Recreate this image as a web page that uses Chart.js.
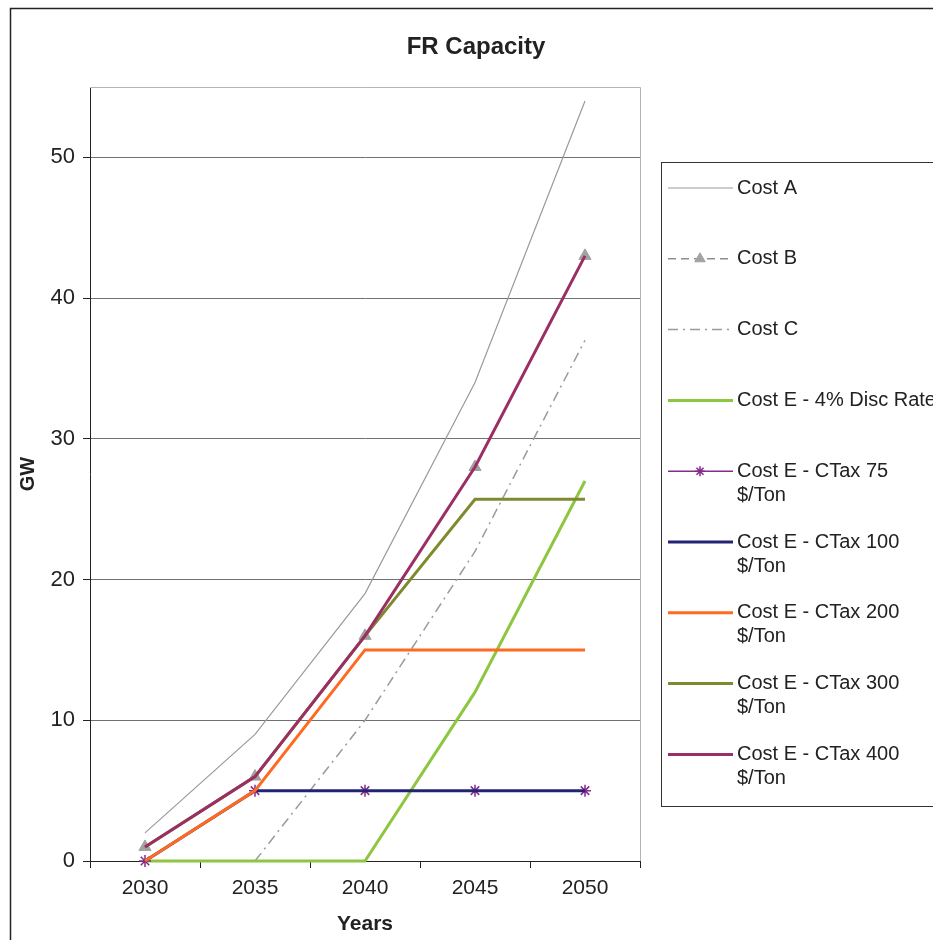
<!DOCTYPE html>
<html lang="en">
  <head>
    <meta charset="UTF-8" />
    <title>FR Capacity</title>
    <script src="https://cdn.jsdelivr.net/npm/chart.js"></script>
    <style>
      html, body {
        margin: 0;
        padding: 0;
        background-color: #fff;
      }
      #wrap {
        position: relative;
        width: 933px;
        height: 940px;
      }
    </style>
  </head>
  <body>
    <div id="wrap">
      <canvas id="capacityChart" width="933" height="940"></canvas>
    </div>

    <script>
      // chart data
      const years = ["2030", "2035", "2040", "2045", "2050"];
      const yTicks = [0, 10, 20, 30, 40, 50];

      const costA = [2, 9, 19, 34, 54];
      const costB = [1, 6, 16, 28, 43];
      const costC = [null, 0, 10, 22, 37];
      const disc4 = [0, 0, 0, 12, 27];
      const ctax75 = [0, 5, 5, 5, 5];
      const ctax100 = [0, 5, 5, 5, 5];
      const ctax200 = [0, 5, 15, 15, 15];
      const ctax300 = [1, 6, 16, 25.7, 25.7];
      const ctax400 = [1, 6, 16, 28, 43];

      const seriesNames = [
        ["Cost A"],
        ["Cost B"],
        ["Cost C"],
        ["Cost E - 4% Disc Rate"],
        ["Cost E - CTax 75", "$/Ton"],
        ["Cost E - CTax 100", "$/Ton"],
        ["Cost E - CTax 200", "$/Ton"],
        ["Cost E - CTax 300", "$/Ton"],
        ["Cost E - CTax 400", "$/Ton"],
      ];

      const FONT = "'Liberation Sans', Arial, sans-serif";

      // later series are drawn on top, like the original
      function line(idx, data, color, width, extra) {
        return Object.assign({
          label: seriesNames[idx].join(" "),
          legendLines: seriesNames[idx],
          data: data,
          borderColor: color,
          backgroundColor: color,
          borderWidth: width,
          pointRadius: 0,
          pointHoverRadius: 0,
          tension: 0,
          fill: false,
          clip: false,
          spanGaps: false,
          order: 8 - idx,
        }, extra || {});
      }

      const datasets = [
        line(0, costA, "#9a9a9a", 1.2),
        line(1, costB, "#8e8e8e", 1.5, {
          borderDash: [8, 5],
          pointStyle: "triangle",
          pointRadius: 7,
          pointBackgroundColor: "#a2a2a2",
          pointBorderColor: "#a2a2a2",
          pointBorderWidth: 1,
        }),
        line(2, costC, "#9a9a9a", 1.5, { borderDash: [10, 5, 2, 5] }),
        line(3, disc4, "#8dc63f", 3),
        line(4, ctax75, "#862a8e", 1.5, {
          pointStyle: "star",
          pointRadius: 6,
          pointBorderColor: "#862a8e",
          pointBackgroundColor: "#862a8e",
          pointBorderWidth: 1.5,
        }),
        line(5, ctax100, "#232373", 3),
        line(6, ctax200, "#ff6a22", 3),
        line(7, ctax300, "#7f8a2e", 3),
        line(8, ctax400, "#9b2f65", 3),
      ];

      // frame, title, plot border and the legend box
      const decorPlugin = {
        id: "decor",
        afterDraw(chart) {
          const ctx = chart.ctx;
          const area = chart.chartArea;
          ctx.save();

          // outer frame
          ctx.strokeStyle = "#222";
          ctx.lineWidth = 1.5;
          ctx.strokeRect(10.5, 8.5, 1000, 1000);

          // plot top / right border
          ctx.strokeStyle = "#b4b4b4";
          ctx.lineWidth = 1;
          ctx.beginPath();
          ctx.moveTo(area.left, area.top + 0.5);
          ctx.lineTo(area.right + 0.5, area.top + 0.5);
          ctx.lineTo(area.right + 0.5, area.bottom);
          ctx.stroke();

          // title
          ctx.fillStyle = "#222";
          ctx.font = "bold 24px " + FONT;
          ctx.textAlign = "center";
          ctx.textBaseline = "middle";
          ctx.fillText("FR Capacity", 476, 47);

          // legend
          ctx.strokeStyle = "#333";
          ctx.lineWidth = 1;
          ctx.strokeRect(661.5, 162.5, 400, 644);
          ctx.font = "20px " + FONT;
          ctx.textAlign = "left";
          ctx.textBaseline = "middle";
          chart.data.datasets.forEach(function (ds, i) {
            const y = 188 + i * 70.8;
            ctx.save();
            ctx.strokeStyle = ds.borderColor;
            ctx.lineWidth = ds.borderWidth;
            ctx.setLineDash(ds.borderDash || []);
            ctx.beginPath();
            ctx.moveTo(668, y);
            ctx.lineTo(733, y);
            ctx.stroke();
            ctx.setLineDash([]);
            if (ds.pointRadius > 0) {
              ctx.fillStyle = ds.pointBackgroundColor;
              ctx.strokeStyle = ds.pointBorderColor;
              ctx.lineWidth = ds.pointBorderWidth;
              Chart.helpers.drawPoint(ctx, {
                pointStyle: ds.pointStyle,
                radius: ds.pointRadius - 1,
                rotation: 0,
                borderWidth: ds.pointBorderWidth,
              }, 700, y);
            }
            ctx.restore();
            ctx.fillStyle = "#222";
            ds.legendLines.forEach(function (t, k) {
              ctx.fillText(t, 737, y + k * 24);
            });
          });

          ctx.restore();
        },
      };

      new Chart(document.getElementById("capacityChart").getContext("2d"), {
        type: "line",
        data: { labels: years, datasets: datasets },
        options: {
          responsive: false,
          animation: false,
          events: [],
          layout: {
            padding: { left: 10, top: 87, right: 293, bottom: 0 },
          },
          plugins: {
            legend: { display: false },
            title: { display: false },
            tooltip: { enabled: false },
          },
          scales: {
            x: {
              offset: true,
              afterFit(scale) { scale.height = 79; },
              grid: {
                offset: true,
                drawOnChartArea: false,
                drawTicks: true,
                tickLength: 7,
                tickColor: "#222",
              },
              border: { color: "#222", width: 1 },
              ticks: {
                color: "#222",
                font: { family: FONT, size: 21 },
                padding: 8,
                maxRotation: 0,
              },
              title: {
                display: true,
                text: "Years",
                color: "#222",
                font: { family: FONT, size: 21, weight: "bold" },
                padding: { top: 0, bottom: 3 },
              },
            },
            y: {
              min: 0,
              max: 55,
              afterFit(scale) { scale.width = 80; },
              afterBuildTicks(scale) {
                scale.ticks = yTicks.map(function (v) { return { value: v }; });
              },
              grid: {
                color: "#707070",
                lineWidth: 1,
                drawTicks: true,
                tickLength: 7,
                tickColor: "#222",
              },
              border: { color: "#222", width: 1 },
              ticks: {
                color: "#222",
                font: { family: FONT, size: 22 },
                padding: 8,
              },
              title: {
                display: true,
                text: "GW",
                color: "#222",
                font: { family: FONT, size: 20, weight: "bold" },
                padding: { top: 6, bottom: 0 },
              },
            },
          },
        },
        plugins: [decorPlugin],
      });
    </script>
  </body>
</html>
